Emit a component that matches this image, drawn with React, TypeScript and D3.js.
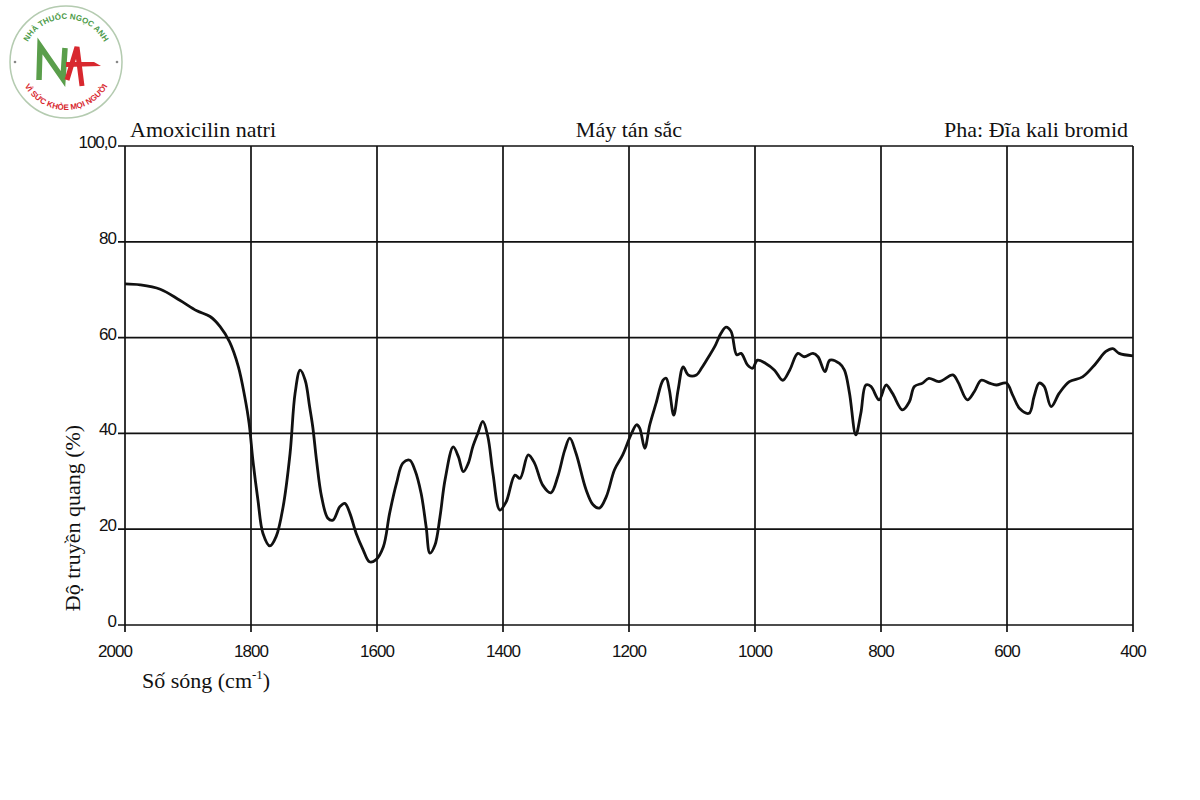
import React from 'react';
import * as d3 from 'd3';

// wavenumber (cm-1) and transmittance (%)
const waveNumbers = [
  2000, 1976, 1944, 1913, 1886, 1865, 1849, 1834, 1820, 1810, 1803, 1797, 1789, 1781, 1770, 1760,
  1749, 1738, 1730, 1722, 1714, 1707, 1702, 1696, 1688, 1678, 1670, 1659, 1651, 1643, 1633, 1622,
  1612, 1602, 1590, 1580, 1569, 1559, 1548, 1540, 1530, 1522, 1516, 1508, 1500, 1492, 1479, 1471,
  1463, 1455, 1448, 1440, 1432, 1424, 1416, 1405, 1395, 1381, 1373, 1360, 1350, 1337, 1324, 1313,
  1302, 1294, 1284, 1268, 1257, 1247, 1236, 1223, 1210, 1196, 1188, 1183, 1175, 1167, 1157, 1146,
  1141, 1136, 1129, 1122, 1114, 1106, 1093, 1085, 1075, 1064, 1054, 1046, 1038, 1029, 1022, 1012,
  1004, 996, 983, 969, 956, 945, 932, 922, 908, 900, 889, 881, 866, 858, 850, 840,
  832, 824, 816, 803, 792, 782, 766, 755, 747, 734, 724, 708, 686, 678, 663, 652,
  641, 628, 617, 601, 591, 580, 565, 557, 549, 541, 530, 517, 501, 480, 459, 443,
  432, 422, 400,
];
const transmittance = [
  71.2, 71.0, 70.1, 67.8, 65.6, 64.4, 62.3, 59.1, 53.9, 47.7, 42.1, 34.4, 26.1, 19.1, 16.5, 18.5,
  24.7, 35.8, 48.4, 53.2, 51.1, 45.6, 41.4, 34.4, 26.8, 22.3, 21.9, 24.7, 25.4, 23.3, 19.1, 15.7,
  13.2, 13.6, 16.3, 23.3, 29.6, 33.8, 34.4, 32.4, 27.5, 20.5, 15.0, 16.7, 22.6, 30.3, 37.2, 35.2,
  32.0, 33.8, 37.2, 40.0, 42.5, 39.3, 31.7, 24.0, 25.7, 31.3, 30.6, 35.5, 33.8, 29.2, 27.6, 31.0,
  36.5, 39.0, 35.8, 28.2, 25.1, 24.4, 26.8, 32.4, 35.5, 40.0, 41.8, 41.1, 36.9, 41.8, 46.3, 51.1,
  51.5, 49.1, 43.8, 49.1, 53.9, 52.2, 52.2, 53.6, 55.7, 58.1, 60.9, 62.2, 61.3, 56.4, 56.7, 54.3,
  53.6, 55.3, 54.6, 53.2, 51.1, 53.2, 56.7, 56.0, 56.7, 56.0, 52.9, 55.3, 54.6, 53.2, 48.4, 39.7,
  44.2, 50.1, 49.8, 47.0, 50.1, 48.4, 44.9, 46.6, 49.8, 50.5, 51.5, 50.8, 52.2, 50.8, 47.0, 48.7,
  51.1, 50.5, 50.1, 50.5, 48.0, 45.2, 44.2, 47.7, 50.5, 49.8, 45.6, 48.4, 50.8, 51.8, 54.6, 57.1,
  57.7, 56.7, 56.2,
];

const xTicks = [2000, 1800, 1600, 1400, 1200, 1000, 800, 600, 400];
const yTicks = [0, 20, 40, 60, 80, 100];
const yTickLabels = ['0', '20', '40', '60', '80', '100,0'];

const titleLeft = 'Amoxicilin natri';
const titleMid = 'Máy tán sắc';
const titleRight = 'Pha: Đĩa kali bromid';

const Logo = () => {
  const cx = 66, cy = 62;
  const rt = 43, rb = 48;
  // top arc: glyphs grow outward; bottom arc: glyphs grow inward
  const top = `M ${cx - rt} ${cy} A ${rt} ${rt} 0 0 1 ${cx + rt} ${cy}`;
  const bottom = `M ${cx - rb} ${cy} A ${rb} ${rb} 0 0 0 ${cx + rb} ${cy}`;
  return (
    <g>
      <defs>
        <path id="logoTop" d={top} />
        <path id="logoBottom" d={bottom} />
      </defs>
      <circle cx={cx} cy={cy} r={56} fill="#fff" stroke="#b4cbb0" strokeWidth={1.5} />
      <text fontFamily="Liberation Sans, Arial, sans-serif" fontWeight="bold" fontSize={8} fill="#4c9a48">
        <textPath href="#logoTop" startOffset="50%" textAnchor="middle">NHÀ THUỐC NGỌC ANH</textPath>
      </text>
      <text fontFamily="Liberation Sans, Arial, sans-serif" fontWeight="bold" fontSize={8} fill="#d8282f">
        <textPath href="#logoBottom" startOffset="50%" textAnchor="middle">VÌ SỨC KHỎE MỌI NGƯỜI</textPath>
      </text>
      <circle cx={cx - 51} cy={cy} r={1.3} fill="#888" />
      <circle cx={cx + 51} cy={cy} r={1.3} fill="#888" />
      <polyline points="39,80 40,46 63,79 65,48" fill="none" stroke="#5a9e4b" strokeWidth={5.5} strokeLinejoin="miter" />
      <polyline points="67,80 77,47 82,86" fill="none" stroke="#d8282f" strokeWidth={5} strokeLinejoin="miter" />
      <polygon points="66,62 94,62 101,66 66,67" fill="#d8282f" />
    </g>
  );
};

export default function App() {
  const left = 125, right = 1133, top = 146, bottom = 625;
  const x = d3.scaleLinear().domain([2000, 400]).range([left, right]);
  const y = d3.scaleLinear().domain([0, 100]).range([bottom, top]);

  const points = waveNumbers.map((w, i) => [w, transmittance[i]] as [number, number]);
  const line = d3
    .line<[number, number]>()
    .x((d) => x(d[0]))
    .y((d) => y(d[1]))
    .curve(d3.curveCatmullRom.alpha(0.5));

  const serif = 'Liberation Serif, Times New Roman, serif';
  const sans = 'Liberation Sans, Arial, sans-serif';

  return (
    <div style={{ position: 'absolute', left: 0, top: 0 }}>
      <svg width={1200} height={800} style={{ display: 'block', background: '#fff' }}>
        <Logo />

        <text x={130} y={137} fontFamily={serif} fontSize={22} fill="#111">{titleLeft}</text>
        <text x={629} y={137} fontFamily={serif} fontSize={22} fill="#111" textAnchor="middle">{titleMid}</text>
        <text x={1128} y={137} fontFamily={serif} fontSize={22} fill="#111" textAnchor="end">{titleRight}</text>

        {xTicks.map((t) => (
          <line key={'gx' + t} x1={x(t)} x2={x(t)} y1={top} y2={bottom + 7} stroke="#111" strokeWidth={1.7} />
        ))}
        {yTicks.map((t) => (
          <line key={'gy' + t} x1={left - 7} x2={right} y1={y(t)} y2={y(t)} stroke="#111" strokeWidth={1.7} />
        ))}

        {yTicks.map((t, i) => (
          <text key={'ly' + t} x={116} y={y(t) + 2} fontFamily={sans} fontSize={17} fill="#111"
            textAnchor="end" letterSpacing={-1}>{yTickLabels[i]}</text>
        ))}
        {xTicks.map((t, i) => (
          <text key={'lx' + t} x={x(t) + (i === 0 ? -10 : 0)} y={657} fontFamily={sans} fontSize={17} fill="#111"
            textAnchor="middle" letterSpacing={-1}>{t}</text>
        ))}

        <path d={line(points) || ''} fill="none" stroke="#111" strokeWidth={2.8} strokeLinejoin="round" />

        <text x={142} y={688} fontFamily={serif} fontSize={22} fill="#111">
          Số sóng (cm<tspan fontSize={13} dy={-9}>-1</tspan><tspan dy={9}>)</tspan>
        </text>
        <text transform="translate(80,518) rotate(-90)" fontFamily={serif} fontSize={22} fill="#111" textAnchor="middle">
          Độ truyền quang (%)
        </text>
      </svg>
    </div>
  );
}
